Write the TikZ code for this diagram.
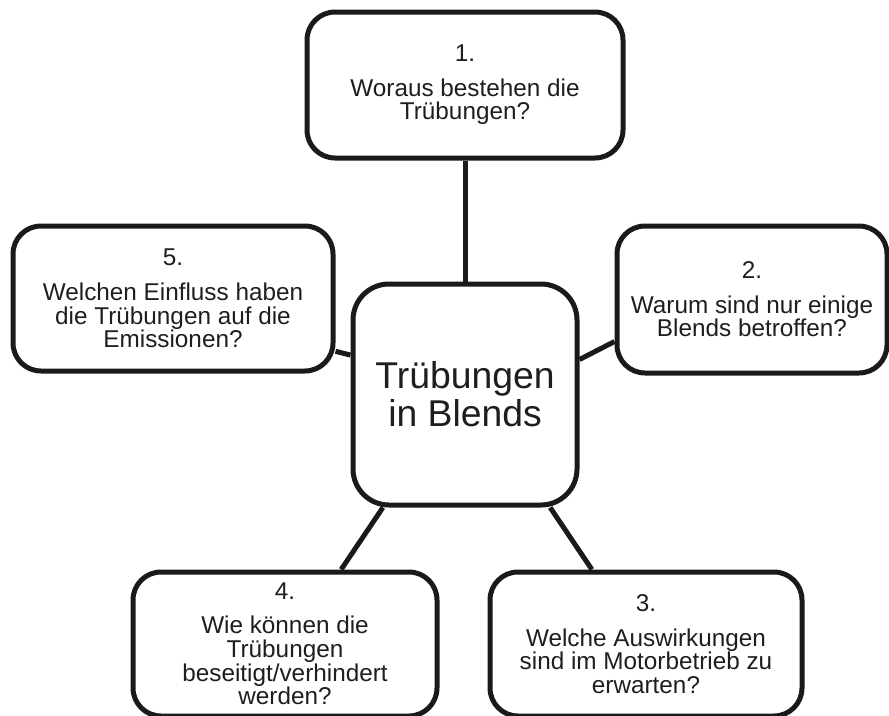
\documentclass[tikz,border=0pt]{standalone}
\usepackage{fontspec}
\setmainfont{Liberation Sans}
\definecolor{inktext}{HTML}{1E1E1E}
\definecolor{inkline}{HTML}{1A1A1A}

\begin{document}
\begin{tikzpicture}[x=1pt, y=-1pt,
  question/.style={draw=inkline, line width=5pt, rounded corners=28pt,
    align=center, inner sep=0pt, text=inktext,
    font=\fontsize{24.3}{23.6}\selectfont},
  hub/.style={draw=inkline, line width=5pt, rounded corners=36pt,
    align=center, inner sep=0pt, text=inktext,
    minimum width=224pt, minimum height=221pt,
    font=\fontsize{37.3}{37.7}\selectfont},
  spoke/.style={draw=inkline, line width=5pt}]
  \useasboundingbox (0,0) rectangle (889,715);

  \node[hub] (topic) at (465,394.5) {Trübungen\\in Blends};

  \node[question, minimum width=316pt, minimum height=146pt] (q1) at (465,85)
    {1.\\[11pt]Woraus bestehen die\\Trübungen?};
  \node[question, minimum width=270pt, minimum height=147pt] (q2) at (752,299.5)
    {2.\\[11pt]Warum sind nur einige\\Blends betroffen?};
  \node[question, minimum width=312pt, minimum height=144pt] (q3) at (646,644)
    {3.\\[11pt]Welche Auswirkungen\\sind im Motorbetrieb zu\\erwarten?};
  \node[question, minimum width=304pt, minimum height=144pt] (q4) at (285,644)
    {4.\\[10.5pt]Wie können die\\Trübungen\\beseitigt/verhindert\\werden?};
  \node[question, minimum width=320pt, minimum height=145pt] (q5) at (173,298.5)
    {5.\\[11pt]Welchen Einfluss haben\\die Trübungen auf die\\Emissionen?};

  % spokes from the questions to the topic
  \draw[spoke] (q1.south) -- (topic.north);
  \draw[spoke] (q2.197.5) -- (topic.17.6);
  \draw[spoke] (q3.126.9) -- (topic.-53.4);
  \draw[spoke] (q4.53.6) -- (topic.234.8);
  \draw[spoke] (q5.-18.5) -- (topic.161.5);
\end{tikzpicture}
\end{document}
